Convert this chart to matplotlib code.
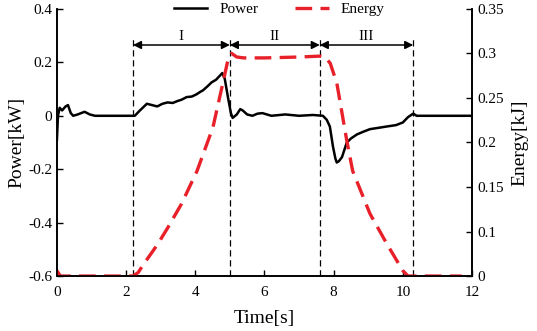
import matplotlib.pyplot as plt
import numpy as np

plt.rcParams['font.family'] = ['Liberation Serif', 'DejaVu Serif']

# power curve [kW]
t_power = [0.0, 0.03, 0.08, 0.15, 0.25, 0.32, 0.4, 0.47, 0.6, 0.8, 0.95, 1.1, 1.5, 2.0, 2.25,
           2.4, 2.6, 2.75, 2.9, 3.05, 3.2, 3.35, 3.48, 3.6, 3.75, 3.9, 4.03, 4.15, 4.22, 4.35,
           4.47, 4.6, 4.71, 4.78, 4.85, 4.95, 5.03, 5.08, 5.2, 5.3, 5.37, 5.5, 5.65, 5.8, 5.94,
           6.2, 6.6, 7.0, 7.4, 7.69, 7.8, 7.89, 7.98, 8.05, 8.09, 8.15, 8.24, 8.38, 8.5, 8.67,
           8.85, 9.05, 9.3, 9.54, 9.8, 10.0, 10.15, 10.3, 10.4, 11.0, 12.0]
power = [-0.09, 0.0, 0.03, 0.02, 0.035, 0.04, 0.01, 0.0, 0.005, 0.015, 0.005, 0.0, 0.0, 0.0, 0.0,
         0.02, 0.045, 0.04, 0.035, 0.045, 0.05, 0.048, 0.055, 0.06, 0.07, 0.072, 0.08, 0.09, 0.095, 0.11,
         0.125, 0.135, 0.15, 0.16, 0.14, 0.065, 0.01, -0.008, 0.005, 0.025, 0.02, 0.005, 0.0, 0.008, 0.01,
         0.0, 0.005, 0.0, 0.003, 0.0, -0.015, -0.04, -0.115, -0.16, -0.175, -0.17, -0.155, -0.1, -0.085, -0.07,
         -0.06, -0.05, -0.045, -0.04, -0.035, -0.025, -0.005, 0.008, 0.0, 0.0, 0.0]

# energy curve [kJ]
t_energy = [0.0, 0.1, 0.2, 1.0, 2.2, 2.35, 2.5, 2.9, 3.2, 3.6, 4.05, 4.51, 4.77, 4.94, 5.05,
            5.2, 5.4, 6.0, 7.0, 7.6, 7.75, 7.9, 8.09, 8.38, 8.55, 9.05, 9.54, 10.0, 10.15, 11.7]
energy = [0.012, 0.0, 0.0, 0.0, 0.0, 0.008, 0.026, 0.07, 0.104, 0.131, 0.168, 0.217, 0.262, 0.292, 0.3,
          0.296, 0.295, 0.295, 0.296, 0.297, 0.296, 0.289, 0.267, 0.202, 0.168, 0.12, 0.072, 0.012, 0.0, 0.0]

phase_bounds = [2.2, 5.0, 7.6, 10.3]
phase_labels = ['I', 'II', 'III']

fig = plt.figure(figsize=(5.37, 3.31), dpi=100)
ax = fig.add_axes([0.106, 0.166, 0.773, 0.807])
ax2 = ax.twinx()

ln1, = ax.plot(t_power, power, color='black', lw=1.8, label='Power')
ln2, = ax2.plot(t_energy, energy, color='#e8202a', lw=2.4, ls=(0, (5, 2.5)), label='Energy')

# phase markers
for b in phase_bounds:
    ax.plot([b, b], [-0.6, 0.3], color='black', lw=0.9, ls=(0, (5, 3)))
for i, lab in enumerate(phase_labels):
    a, b = phase_bounds[i], phase_bounds[i + 1]
    ax.annotate('', xy=(b, 0.265), xytext=(a, 0.265),
                arrowprops=dict(arrowstyle='<|-|>', color='black', lw=1.1,
                                mutation_scale=12, shrinkA=0, shrinkB=0))
    ax.text((a + b) / 2, 0.272, lab, ha='center', va='bottom', fontsize=11)

ax.set_xlim(0, 12)
ax.set_ylim(-0.6, 0.4)
ax.set_xticks([0, 2, 4, 6, 8, 10, 12])
ax.set_yticks([-0.6, -0.4, -0.2, 0, 0.2, 0.4])
ax.set_yticklabels(['-0.6', '-0.4', '-0.2', '0', '0.2', '0.4'])


# right axis: lowest interval spans 0..0.1, the rest 0.05 each
def fwd(v):
    v = np.asarray(v, dtype=float)
    return np.where(v < 0.1, 0.05 + v / 2, v)


def inv(y):
    y = np.asarray(y, dtype=float)
    return np.where(y < 0.1, (y - 0.05) * 2, y)


ax2.set_yscale('function', functions=(fwd, inv))
ax2.set_ylim(0, 0.35)
ax2.set_yticks([0, 0.1, 0.15, 0.2, 0.25, 0.3, 0.35])
ax2.set_yticklabels(['0', '0.1', '0.15', '0.2', '0.25', '0.3', '0.35'])
ax2.minorticks_off()

for a_ in (ax, ax2):
    a_.spines['top'].set_visible(False)
    a_.tick_params(direction='in', length=4, width=1, labelsize=11)
    for s in a_.spines.values():
        s.set_linewidth(1.2)
ax.tick_params(axis='x', pad=7)

ax.set_xlabel('Time[s]', fontsize=14, labelpad=8)
ax.set_ylabel('Power[kW]', fontsize=14, labelpad=2)
ax2.set_ylabel('Energy[kJ]', fontsize=14, labelpad=6)

fig.legend([ln1, ln2], ['Power', 'Energy'], loc='center', bbox_to_anchor=(0.52, 0.972),
           ncol=2, frameon=False, fontsize=11, handlelength=2.2, columnspacing=2.4,
           handletextpad=0.8)

fig.savefig('out.png', dpi=100)
